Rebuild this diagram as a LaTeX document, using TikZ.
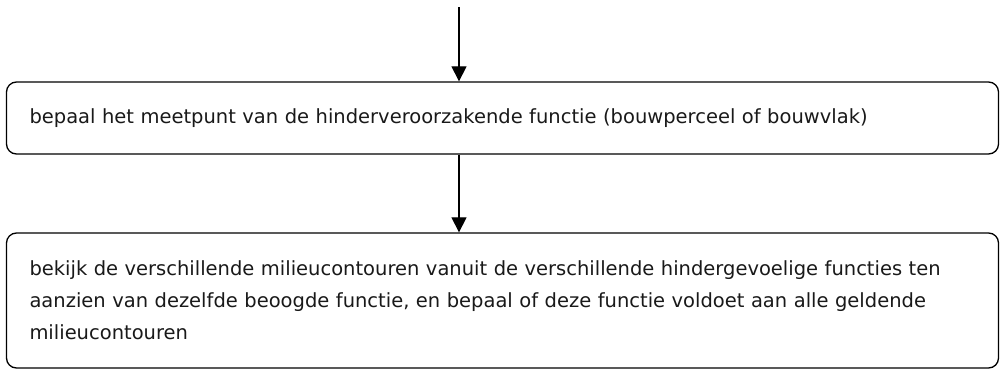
\documentclass[tikz,border=0pt]{standalone}
\usepackage{fontspec}
\setmainfont{DejaVu Sans}
\usetikzlibrary{arrows.meta}
\begin{document}
\begin{tikzpicture}[x=1pt,y=-1pt,
  stepbox/.style={draw=black, line width=1.3pt, rounded corners=10pt, rectangle,
    minimum width=992pt, text width=946pt, inner xsep=23pt, inner ysep=0pt,
    align=left, font={\fontsize{19.5}{32}\selectfont}, text=black!90},
  flow/.style={line width=1.2pt, -{Triangle[width=15pt,length=15pt]}}]
\useasboundingbox (0,0) rectangle (1000,370);
\node[stepbox, minimum height=72pt] (b1) at (502.5,118) {bepaal het meetpunt van de hinderveroorzakende functie (bouwperceel of bouwvlak)};
\node[stepbox, minimum height=135pt] (b2) at (502.5,300.5) {bekijk de verschillende milieucontouren vanuit de verschillende hindergevoelige functies ten\\aanzien van dezelfde beoogde functie, en bepaal of deze functie voldoet aan alle geldende\\milieucontouren};
\coordinate (top) at (459,7);
\draw[flow] (top) -- (top |- b1.north);
\draw[flow] (top |- b1.south) -- (top |- b2.north);
\end{tikzpicture}
\end{document}
